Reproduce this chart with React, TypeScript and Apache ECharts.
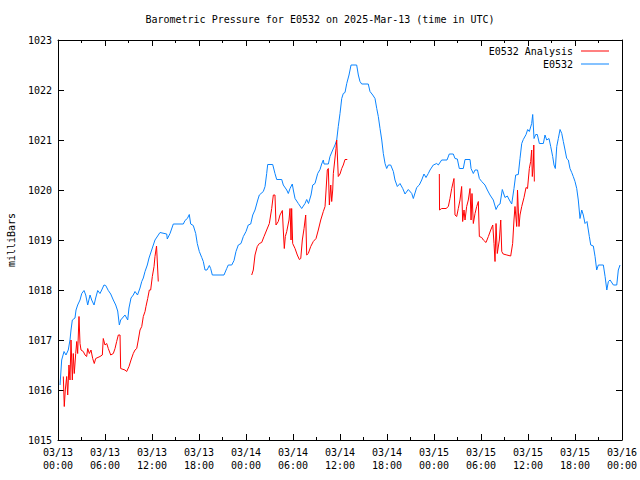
import React, { useEffect, useRef } from "react";
import * as echarts from "echarts";

const TITLE = "Barometric Pressure for E0532 on 2025-Mar-13 (time in UTC)";
const Y_NAME = "milliBars";
const SERIES_NAMES = ["E0532 Analysis", "E0532"];
const TICK_DATES = ["03/13", "03/13", "03/13", "03/13", "03/14", "03/14", "03/14", "03/14", "03/15", "03/15", "03/15", "03/15", "03/16"];
const TICK_TIMES = ["00:00", "06:00", "12:00", "18:00", "00:00", "06:00", "12:00", "18:00", "00:00", "06:00", "12:00", "18:00", "00:00"];

// hours since 2025-03-13 00:00 UTC
const obsHours = [
  0.26, 0.47, 0.77, 1.02, 1.31, 1.53, 1.66, 1.83, 2.17, 2.3, 2.51, 2.81, 3.03, 3.32, 3.54, 3.79, 4.09, 4.3, 4.6, 4.81,
  5.07, 5.36, 5.58, 5.87, 6.09, 6.42, 6.73, 7.06, 7.37, 7.62, 7.83, 8.0, 8.55, 8.9, 9.06, 9.32, 9.61, 9.83, 10.15, 10.47,
  10.69, 10.89, 11.11, 11.4, 11.62, 11.96, 12.38, 13.02, 13.88, 13.95, 14.3, 14.72, 16.0, 16.21, 16.51, 16.76, 16.94, 17.27, 17.58, 17.78,
  18.04, 18.35, 18.55, 18.77, 19.02, 19.32, 19.49, 19.7, 21.19, 21.54, 21.74, 22.18, 22.47, 22.72, 23.02, 23.36, 23.66, 24.0, 24.29, 24.6,
  24.86, 25.15, 25.5, 25.7, 26.21, 26.43, 26.64, 26.77, 27.41, 27.7, 27.92, 28.56, 28.76, 29.2, 29.4, 29.62, 29.91, 30.04, 30.26, 30.68,
  31.11, 31.53, 31.75, 31.98, 32.3, 32.52, 32.81, 33.15, 33.45, 33.66, 33.87, 33.96, 34.51, 34.72, 35.07, 35.36, 35.58, 35.78, 36.0, 36.22,
  36.42, 36.64, 36.86, 37.15, 37.41, 38.13, 38.34, 38.55, 38.77, 39.61, 39.83, 40.18, 40.47, 40.69, 40.89, 41.11, 41.33, 41.53, 41.75, 41.96,
  42.17, 42.47, 42.81, 43.02, 43.32, 43.66, 44.01, 44.3, 44.72, 45.16, 45.36, 45.79, 46.12, 46.43, 46.72, 46.98, 47.27, 47.49, 47.91, 48.35,
  48.55, 48.98, 49.66, 49.95, 50.46, 50.68, 50.98, 51.23, 51.74, 51.96, 52.6, 52.73, 53.02, 53.24, 53.55, 53.79, 54.09, 54.51, 54.81, 55.15,
  55.57, 55.92, 56.21, 56.43, 56.72, 57.06, 57.36, 57.62, 57.92, 58.21, 58.43, 58.76, 58.98, 59.2, 59.4, 59.75, 59.96, 60.17, 60.47, 60.6,
  60.77, 60.98, 61.19, 61.45, 61.96, 62.17, 62.39, 62.68, 62.9, 63.15, 63.32, 63.49, 63.67, 63.87, 64.09, 64.31, 64.51, 64.73, 64.94, 65.15,
  65.36, 65.58, 65.78, 66.0, 66.22, 66.42, 66.64, 66.86, 67.06, 67.28, 67.53, 67.83, 68.01, 68.34, 68.56, 68.77, 68.98, 69.62, 69.84, 70.06,
  70.26, 70.48, 70.9, 71.33, 71.53, 71.75,
];
const obsValues = [
  1016.1, 1016.6, 1016.77, 1016.7, 1016.8, 1017.0, 1017.2, 1017.4, 1017.44, 1017.6, 1017.7, 1017.8, 1017.93, 1017.99, 1017.9, 1017.7, 1017.9, 1017.8, 1017.7, 1017.84,
  1017.99, 1017.93, 1018.0, 1018.1, 1018.09, 1017.99, 1017.92, 1017.8, 1017.7, 1017.58, 1017.3, 1017.4, 1017.5, 1017.4, 1017.64, 1017.84, 1017.9, 1017.97, 1017.9, 1018.04,
  1018.17, 1018.24, 1018.37, 1018.5, 1018.64, 1018.8, 1019.0, 1019.15, 1019.12, 1019.02, 1019.13, 1019.32, 1019.32, 1019.39, 1019.43, 1019.51, 1019.32, 1019.29, 1019.13, 1018.93,
  1018.77, 1018.65, 1018.57, 1018.4, 1018.4, 1018.49, 1018.43, 1018.3, 1018.3, 1018.43, 1018.5, 1018.5, 1018.59, 1018.77, 1018.9, 1018.93, 1019.07, 1019.17, 1019.3, 1019.32,
  1019.5, 1019.6, 1019.8, 1019.9, 1019.97, 1020.07, 1020.33, 1020.51, 1020.51, 1020.33, 1020.21, 1020.21, 1020.1, 1020.0, 1019.93, 1020.03, 1020.12, 1020.0, 1019.83, 1019.73,
  1019.63, 1019.73, 1019.81, 1019.73, 1019.9, 1020.1, 1020.13, 1020.33, 1020.41, 1020.52, 1020.6, 1020.52, 1020.52, 1020.67, 1020.8, 1020.9, 1021.0, 1021.27, 1021.53, 1021.83,
  1021.93, 1021.95, 1022.13, 1022.3, 1022.5, 1022.5, 1022.3, 1022.17, 1022.12, 1022.12, 1021.97, 1021.9, 1021.83, 1021.63, 1021.47, 1021.23, 1021.0, 1020.73, 1020.53, 1020.43,
  1020.5, 1020.5, 1020.37, 1020.2, 1020.07, 1020.13, 1020.03, 1019.92, 1020.01, 1019.93, 1019.83, 1020.05, 1020.1, 1020.2, 1020.32, 1020.25, 1020.33, 1020.4, 1020.5, 1020.53,
  1020.5, 1020.6, 1020.6, 1020.72, 1020.72, 1020.63, 1020.62, 1020.43, 1020.43, 1020.61, 1020.61, 1020.43, 1020.33, 1020.4, 1020.4, 1020.23, 1020.17, 1020.1, 1020.0, 1019.9,
  1019.8, 1019.61, 1019.7, 1019.72, 1020.01, 1019.85, 1019.88, 1019.8, 1019.72, 1020.03, 1020.3, 1020.31, 1020.63, 1020.93, 1021.01, 1021.11, 1021.21, 1021.17, 1021.33, 1021.51,
  1021.03, 1021.11, 1021.11, 1020.93, 1020.93, 1021.1, 1021.0, 1021.03, 1020.87, 1020.67, 1020.5, 1020.43, 1020.87, 1021.03, 1021.21, 1021.13, 1020.97, 1020.8, 1020.63, 1020.6,
  1020.43, 1020.35, 1020.27, 1020.17, 1020.03, 1019.8, 1019.43, 1019.6, 1019.5, 1019.33, 1019.37, 1019.07, 1018.9, 1018.88, 1018.67, 1018.4, 1018.5, 1018.5, 1018.27, 1018.0,
  1018.17, 1018.2, 1018.1, 1018.1, 1018.4, 1018.5,
];

// analysis series; null marks a gap
const anaHours = [
  0.68, 0.8, 0.93, 1.11, 1.24, 1.4, 1.53, 1.66, 1.83, 1.95, 2.08, 2.26, 2.39, 2.51, 2.68, 2.81, 2.94, 3.23, 3.45, 3.66,
  3.79, 4.0, 4.21, 4.43, 4.63, 4.81, 5.36, 5.66, 5.78, 6.0, 6.22, 6.42, 6.73, 7.06, 7.28, 7.49, 7.7, 7.92, 8.0, 8.55,
  8.77, 9.06, 9.32, 9.61, 9.83, 10.05, 10.25, 10.47, 10.69, 10.89, 11.11, 11.23, 11.45, 11.66, 11.83, 12.04, 12.26, 12.38, 12.58, 12.8,
  13.0,
  24.73, 24.93, 25.15, 25.44, 25.7, 26.0, 26.3, 26.64, 26.98, 27.28, 27.49, 27.7, 27.83, 28.12, 28.34, 28.64, 28.76, 28.89, 29.02, 29.2,
  29.49, 29.62, 29.75, 29.83, 29.96, 30.26, 30.55, 30.81, 30.99, 31.19, 31.41, 31.62, 31.75, 31.95, 32.26, 32.59, 32.94, 33.23, 33.54, 33.87,
  34.09, 34.38, 34.51, 34.64, 34.82, 34.94, 35.07, 35.15, 35.49, 35.58, 35.78, 36.0, 36.22, 36.42, 36.64, 36.93,
  40.0,
  48.68, 48.71, 48.98, 49.54, 49.83, 50.04, 50.26, 50.55, 50.68, 50.9, 51.1, 51.32, 51.53, 51.66, 51.83, 51.96, 52.17, 52.38, 52.6, 52.73,
  52.85, 53.02, 53.24, 53.45, 53.66, 53.79, 54.09, 54.3, 54.64, 54.94, 55.24, 55.5, 55.66, 55.79, 55.92, 56.08, 56.34, 56.52, 56.65, 56.83,
  57.3, 57.79, 58.04, 58.21, 58.34, 58.56, 58.66, 58.85, 58.98, 59.2, 59.49, 59.75, 59.94, 60.17, 60.34, 60.47, 60.55, 60.68, 60.74, 60.81,
];
const anaValues = [
  1016.27, 1015.67, 1016.0, 1016.27, 1015.9, 1016.5, 1016.2, 1017.0, 1016.2, 1016.73, 1016.33, 1016.73, 1016.97, 1016.73, 1017.47, 1016.93, 1016.8, 1016.77, 1016.7, 1016.67,
  1016.83, 1016.73, 1016.8, 1016.63, 1016.53, 1016.63, 1016.67, 1016.7, 1017.03, 1016.9, 1016.93, 1016.83, 1016.7, 1016.73, 1016.83, 1016.97, 1017.1, 1017.1, 1016.43, 1016.4,
  1016.37, 1016.47, 1016.6, 1016.73, 1016.8, 1016.83, 1017.0, 1017.2, 1017.27, 1017.47, 1017.57, 1017.67, 1017.83, 1018.0, 1018.0, 1018.27, 1018.47, 1018.67, 1018.88, 1018.17,
  null,
  1018.3, 1018.4, 1018.7, 1018.87, 1018.93, 1018.95, 1019.07, 1019.2, 1019.33, 1019.63, 1019.9, 1019.9, 1019.3, 1019.37, 1019.5, 1019.59, 1019.2, 1018.83, 1019.07, 1019.17,
  1019.4, 1019.63, 1019.0, 1019.63, 1018.93, 1018.83, 1018.7, 1018.61, 1018.63, 1019.0, 1019.23, 1019.5, 1018.7, 1018.73, 1018.87, 1018.97, 1019.03, 1019.2, 1019.4, 1019.57,
  1019.67, 1020.4, 1020.43, 1019.7, 1020.1, 1019.77, 1020.0, 1020.33, 1020.83, 1021.0, 1020.27, 1020.32, 1020.43, 1020.5, 1020.61, 1020.61,
  null,
  1020.32, 1019.6, 1019.63, 1019.63, 1019.67, 1019.83, 1020.03, 1020.23, 1019.5, 1019.47, 1019.63, 1019.8, 1020.07, 1019.37, 1019.6, 1019.4, 1019.67, 1019.8, 1020.03, 1019.4,
  1019.93, 1019.33, 1019.53, 1019.67, 1019.77, 1019.07, 1019.05, 1019.0, 1018.95, 1019.07, 1019.2, 1019.3, 1018.93, 1018.57, 1019.33, 1018.73, 1019.0, 1019.4, 1018.77, 1018.72,
  1018.7, 1018.68, 1018.93, 1019.4, 1019.67, 1019.27, 1020.0, 1019.27, 1019.5, 1019.67, 1019.85, 1020.05, 1020.03, 1020.43, 1020.57, 1020.8, 1020.27, 1020.5, 1020.9, 1020.17,
];

const FONT = "DejaVu Sans Mono";
const RED = "#ff0000";
const BLUE = "#0a84ff";

export default function App() {
  const ref = useRef<HTMLDivElement>(null);
  useEffect(() => {
    if (!ref.current) return;
    const chart = echarts.init(ref.current, null, { renderer: "svg" });
    const obsData = obsHours.map((h, i) => [h, obsValues[i]]);
    const anaData = anaHours.map((h, i) => [h, anaValues[i] === null ? "-" : anaValues[i]]);
    const xCommon = {
      type: "value",
      min: 0,
      max: 72,
      interval: 6,
      splitLine: { show: false },
      axisLine: { show: true, onZero: false, lineStyle: { color: "#000", width: 1 } },
      axisTick: { show: true, inside: true, length: 6, lineStyle: { color: "#000" } },
      minorTick: { show: true, splitNumber: 2, length: 3, lineStyle: { color: "#000" } },
    };
    const yCommon = {
      type: "value",
      min: 1015,
      max: 1023,
      interval: 1,
      splitLine: { show: false },
      axisLine: { show: true, onZero: false, lineStyle: { color: "#000", width: 1 } },
      axisTick: { show: true, inside: true, length: 6, lineStyle: { color: "#000" } },
    };
    chart.setOption({
      animation: false,
      backgroundColor: "#fff",
      title: {
        text: TITLE,
        left: "center",
        top: 14,
        padding: 0,
        textStyle: { fontFamily: FONT, fontSize: 10, fontWeight: "normal", color: "#000" },
      },
      legend: {
        data: SERIES_NAMES.map((n) => ({ name: n, icon: "rect" })),
        orient: "vertical",
        align: "right",
        right: 31,
        top: 45,
        itemWidth: 28,
        itemHeight: 1,
        itemGap: 1,
        padding: 0,
        textStyle: { fontFamily: FONT, fontSize: 10, color: "#000", lineHeight: 12, padding: [0, 3, 0, 0] },
      },
      grid: { left: 58, right: 18, top: 40, bottom: 40, containLabel: false, outerBoundsMode: "none" },
      xAxis: [
        {
          ...xCommon,
          position: "bottom",
          axisLabel: {
            show: true,
            margin: 6,
            fontFamily: FONT,
            fontSize: 10,
            lineHeight: 13,
            color: "#000",
            formatter: (v: number) => {
              const i = Math.round(v / 6);
              return TICK_DATES[i] + "\n" + TICK_TIMES[i];
            },
          },
        },
        { ...xCommon, position: "top", axisLabel: { show: false } },
      ],
      yAxis: [
        {
          ...yCommon,
          position: "left",
          name: Y_NAME,
          nameLocation: "middle",
          nameRotate: 90,
          nameGap: 42,
          nameTextStyle: { fontFamily: FONT, fontSize: 10, color: "#000" },
          axisLabel: {
            show: true,
            margin: 6,
            fontFamily: FONT,
            fontSize: 10,
            color: "#000",
            formatter: (v: number) => String(v),
          },
        },
        { ...yCommon, position: "right", axisLabel: { show: false } },
      ],
      series: [
        {
          name: SERIES_NAMES[1],
          type: "line",
          data: obsData,
          symbol: "none",
          showSymbol: false,
          lineStyle: { color: BLUE, width: 1 },
          itemStyle: { color: BLUE },
        },
        {
          name: SERIES_NAMES[0],
          type: "line",
          data: anaData,
          symbol: "none",
          showSymbol: false,
          connectNulls: false,
          lineStyle: { color: RED, width: 1 },
          itemStyle: { color: RED },
        },
      ],
    });
    return () => chart.dispose();
  }, []);
  return <div ref={ref} style={{ position: "fixed", left: 0, top: 0, width: 640, height: 480 }} />;
}
